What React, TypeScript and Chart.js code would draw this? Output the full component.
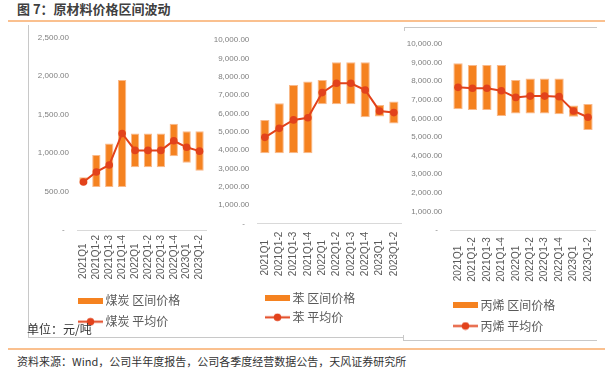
import React, { useEffect, useRef } from 'react';
import { Chart, registerables } from 'chart.js';

Chart.register(...registerables);

// ---------- data ----------
const categories = ['2021Q1', '2021Q1-2', '2021Q1-3', '2021Q1-4', '2022Q1', '2022Q1-2', '2022Q1-3', '2022Q1-4', '2023Q1', '2023Q1-2'];

const coalLow = [600, 560, 560, 560, 815, 815, 815, 960, 875, 770];
const coalHigh = [685, 975, 1125, 1950, 1255, 1255, 1255, 1380, 1285, 1285];
const coalAvg = [625, 755, 845, 1255, 1035, 1035, 1035, 1160, 1075, 1025];

const benzeneLow = [3820, 3820, 3820, 3820, 6490, 6490, 6490, 5780, 5820, 5450];
const benzeneHigh = [5640, 6550, 7550, 7730, 7820, 8780, 8780, 8780, 6450, 6640];
const benzeneAvg = [4690, 5180, 5640, 5760, 7130, 7640, 7640, 7270, 6130, 6040];

const propyleneLow = [6490, 6450, 6450, 6130, 6270, 6270, 6270, 6220, 6090, 5380];
const propyleneHigh = [8960, 8870, 8870, 8870, 8070, 8150, 8150, 8150, 6700, 6770];
const propyleneAvg = [7670, 7620, 7620, 7490, 7130, 7200, 7200, 7170, 6400, 6060];

const coalTicks = { max: 2500, step: 500 };
const benzeneTicks = { max: 10000, step: 1000 };
const propyleneTicks = { max: 10000, step: 1000 };

// ---------- style ----------
const BAR = '#F58220';
const BAR_EDGE = '#F9B98A';
const LINE = '#E2421B';
const RULE = '#FAC08F';
const FRAME = '#C8C8C8';

function fmt(v: number): string {
  if (v === 0) return '-  ';
  const s = v.toFixed(2);
  const [i, d] = s.split('.');
  return i.replace(/\B(?=(\d{3})+(?!\d))/g, ',') + '.' + d;
}

const legendNudge = {
  id: 'legendNudge',
  afterLayout(chart: any, _args: any, opts: any) {
    const l = chart.legend;
    if (l && opts && opts.dx) {
      l.left += opts.dx;
      l.right += opts.dx;
    }
  },
};

type Geo = {
  left: number; top: number; width: number; height: number;
  padTop: number; padRight: number; padBottom: number;
  yWidth: number; xHeight: number; yPad: number; xPad: number;
  legendPad: number; dx: number;
};

type PanelProps = {
  name: string;
  low: number[];
  high: number[];
  avg: number[];
  max: number;
  step: number;
  geo: Geo;
};

function Panel({ name, low, high, avg, max, step, geo }: PanelProps) {
  const ref = useRef<HTMLCanvasElement | null>(null);
  useEffect(() => {
    if (!ref.current) return;
    const barSym = document.createElement('canvas');
    barSym.width = 25; barSym.height = 6;
    const bg = barSym.getContext('2d')!;
    bg.fillStyle = BAR; bg.fillRect(0, 0, 25, 6);

    const lineSym = document.createElement('canvas');
    lineSym.width = 25; lineSym.height = 9;
    const lg = lineSym.getContext('2d')!;
    lg.strokeStyle = LINE; lg.lineWidth = 2;
    lg.beginPath(); lg.moveTo(0, 4.5); lg.lineTo(25, 4.5); lg.stroke();
    lg.fillStyle = LINE;
    lg.beginPath(); lg.arc(12.5, 4.5, 3.8, 0, Math.PI * 2); lg.fill();

    const chart = new Chart(ref.current, {
      type: 'bar',
      data: {
        labels: categories,
        datasets: [
          {
            type: 'bar',
            label: name + ' 区间价格',
            data: low.map((l, i) => [l, high[i]]) as any,
            backgroundColor: BAR,
            borderColor: BAR_EDGE,
            borderWidth: 1,
            borderSkipped: false,
            barPercentage: 0.7,
            categoryPercentage: 0.92,
            order: 1,
          },
          {
            type: 'line',
            label: name + ' 平均价',
            data: avg,
            borderColor: LINE,
            backgroundColor: LINE,
            borderWidth: 2,
            pointRadius: 3.8,
            pointBorderWidth: 0,
            pointBackgroundColor: LINE,
            tension: 0,
            order: 0,
          } as any,
        ],
      },
      options: {
        animation: false,
        responsive: false,
        layout: { padding: { top: geo.padTop, right: geo.padRight, bottom: geo.padBottom, left: 0 } },
        scales: {
          x: {
            offset: true,
            grid: { display: false, drawTicks: false },
            border: { display: true, color: '#D9D9D9', width: 1 },
            ticks: {
              autoSkip: false,
              minRotation: 90,
              maxRotation: 90,
              padding: geo.xPad,
              color: '#595959',
              font: { size: 10, family: '"Liberation Sans", Arial, sans-serif' },
              callback: (_v: any, i: number) => {
                const t = categories[i];
                return t.length < 8 ? t + '   ' : t;
              },
            },
            afterFit: (s: any) => {
              s.height = geo.xHeight;
              s.paddingLeft = 0;
              s.paddingRight = 0;
            },
          },
          y: {
            min: 0,
            max,
            grid: { display: false, drawTicks: false },
            border: { display: false },
            ticks: {
              stepSize: step,
              padding: geo.yPad,
              color: '#7F7F7F',
              font: { size: 8, family: '"Liberation Sans", Arial, sans-serif' },
              callback: (v: any) => fmt(Number(v)),
            },
            afterFit: (s: any) => {
              s.width = geo.yWidth;
              s.paddingTop = 0;
              s.paddingBottom = 0;
            },
          },
        },
        plugins: {
          tooltip: { enabled: false },
          legend: {
            display: true,
            position: 'bottom',
            align: 'start',
            fullSize: false,
            labels: {
              usePointStyle: true,
              pointStyleWidth: 18,
              padding: geo.legendPad,
              color: '#595959',
              font: { size: 12, family: '"Noto Sans CJK SC", sans-serif' },
              generateLabels: (c: any) => {
                const items = (Chart.defaults.plugins.legend.labels as any).generateLabels(c);
                items.forEach((it: any) => {
                  it.pointStyle = it.datasetIndex === 0 ? barSym : lineSym;
                });
                return items.sort((a: any, b: any) => a.datasetIndex - b.datasetIndex);
              },
            },
          },
          legendNudge: { dx: geo.dx },
        } as any,
      },
      plugins: [legendNudge as any],
    } as any);
    return () => chart.destroy();
  }, []);
  return (
    <canvas
      ref={ref}
      width={geo.width}
      height={geo.height}
      style={{ position: 'absolute', left: geo.left, top: geo.top, width: geo.width, height: geo.height }}
    />
  );
}

const geoCoal: Geo = {
  left: 29, top: 27, width: 181, height: 312,
  padTop: 10.7, padRight: 2, padBottom: 1.3,
  yWidth: 48, xHeight: 55.7, yPad: 8, xPad: 5,
  legendPad: 9, dx: -4.5,
};
const geoBenzene: Geo = {
  left: 210, top: 27, width: 195, height: 312,
  padTop: 13, padRight: 0.7, padBottom: 5.7,
  yWidth: 47.7, xHeight: 62, yPad: 8.4, xPad: 8.4,
  legendPad: 7, dx: 3.8,
};
const geoPropylene: Geo = {
  left: 405, top: 28, width: 195, height: 316,
  padTop: 16, padRight: 4.8, padBottom: 2,
  yWidth: 45.8, xHeight: 60, yPad: 8.5, xPad: 7.3,
  legendPad: 9, dx: -3.3,
};

const abs = (l: number, t: number, w: number, h: number, bg: string): React.CSSProperties => ({
  position: 'absolute', left: l, top: t, width: w, height: h, background: bg,
});

export default function App() {
  return (
    <div style={{ position: 'absolute', left: 0, top: 0, width: 605, height: 369, background: '#fff', overflow: 'hidden' }}>
      <div style={{ position: 'absolute', left: 17, top: 2, fontFamily: '"Noto Sans CJK SC", sans-serif', fontWeight: 700, fontSize: 13, lineHeight: '14px', color: '#404040', whiteSpace: 'nowrap' }}>
        图 7：原材料价格区间波动
      </div>
      <div style={abs(8, 20, 597, 2, RULE)} />

      {/* frames */}
      <div style={abs(28, 25, 1, 312, FRAME)} />
      <div style={abs(28, 337, 375, 1, FRAME)} />
      <div style={abs(404, 27, 193, 1, FRAME)} />
      <div style={abs(404, 27, 1, 4, FRAME)} />
      <div style={abs(403, 335, 1, 5, FRAME)} />
      <div style={abs(403, 340, 194, 1, FRAME)} />

      <Panel name="煤炭" low={coalLow} high={coalHigh} avg={coalAvg} max={coalTicks.max} step={coalTicks.step} geo={geoCoal} />
      <Panel name="苯" low={benzeneLow} high={benzeneHigh} avg={benzeneAvg} max={benzeneTicks.max} step={benzeneTicks.step} geo={geoBenzene} />
      <Panel name="丙烯" low={propyleneLow} high={propyleneHigh} avg={propyleneAvg} max={propyleneTicks.max} step={propyleneTicks.step} geo={geoPropylene} />

      <div style={{ position: 'absolute', left: 27, top: 322, fontFamily: '"Noto Sans CJK SC", serif', fontSize: 12, lineHeight: '14px', color: '#333', whiteSpace: 'nowrap' }}>
        单位：元/吨
      </div>

      <div style={abs(8, 348, 597, 2, RULE)} />
      <div style={{ position: 'absolute', left: 17, top: 354, fontFamily: '"Noto Sans CJK SC", sans-serif', fontSize: 11, lineHeight: '14px', color: '#333', whiteSpace: 'nowrap' }}>
        资料来源：Wind，公司半年度报告，公司各季度经营数据公告，天风证券研究所
      </div>
    </div>
  );
}
